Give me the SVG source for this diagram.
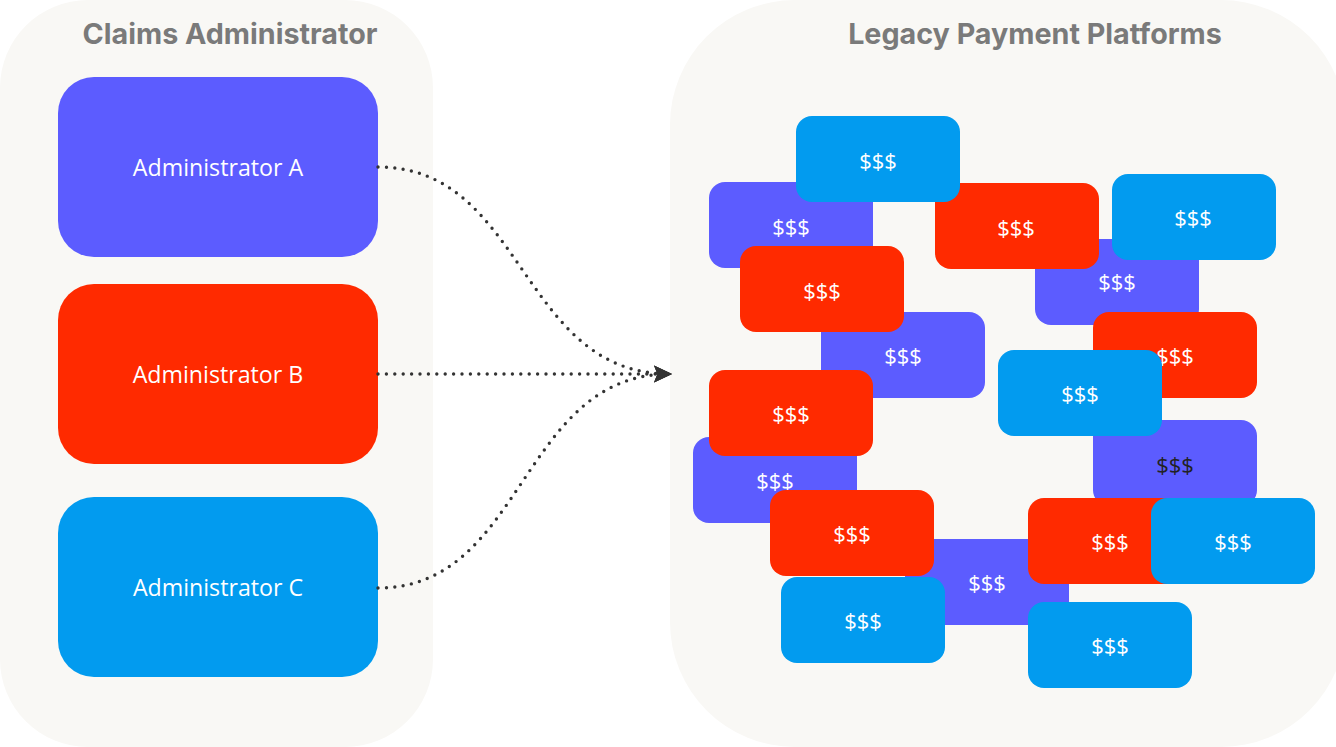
<svg xmlns="http://www.w3.org/2000/svg" width="1336" height="747" viewBox="0 0 1336 747">
<style>
.panel{fill:#f9f8f5}
.title{font-family:Inter,"Liberation Sans",sans-serif;font-weight:700;font-size:28.7px;fill:#7a7a7a;text-anchor:middle}
.admin{font-family:"Open Sans","Noto Sans",sans-serif;font-size:23.2px;fill:#ffffff;text-anchor:middle;dominant-baseline:central}
.m{font-family:"Open Sans","Noto Sans",sans-serif;font-size:22px;fill:#ffffff;text-anchor:middle;dominant-baseline:central}
.p{fill:#5c5cff}.r{fill:#ff2a00}.b{fill:#029bef}
.conn{fill:none;stroke:#333333;stroke-width:3.4;stroke-linecap:round;stroke-dasharray:0 8.4}
</style>
<defs>
<marker id="arrow" markerWidth="20" markerHeight="20" refX="16" refY="10" orient="auto" markerUnits="userSpaceOnUse">
<path d="M0,1.5 L18,10 L0,18.5 L3.5,10 Z" fill="#333333"/>
</marker>
</defs>
<g id="panel-left"><rect class="panel" x="0" y="0" width="433" height="747" rx="88"/><text class="title" x="230" y="44">Claims Administrator</text></g>
<g id="panel-right"><rect class="panel" x="670" y="0" width="676" height="747" rx="125"/><text class="title" x="1035" y="44">Legacy Payment Platforms</text></g>
<g id="admin-a"><rect class="p" x="58" y="77" width="320" height="180" rx="36"/><text class="admin" x="218" y="167">Administrator A</text></g>
<g id="admin-b"><rect class="r" x="58" y="284" width="320" height="180" rx="36"/><text class="admin" x="218" y="374">Administrator B</text></g>
<g id="admin-c"><rect class="b" x="58" y="497" width="320" height="180" rx="36"/><text class="admin" x="218" y="587">Administrator C</text></g>
<g id="connectors">
<path class="conn" d="M378,167 C525,167 520,374 670,374" marker-end="url(#arrow)"/>
<path class="conn" d="M378,374 L670,374" marker-end="url(#arrow)"/>
<path class="conn" d="M378,588 C525,588 520,374 670,374" marker-end="url(#arrow)"/>
</g>
<g id="p1"><rect class="p" x="709" y="182" width="164" height="86" rx="16"/><text class="m" x="791" y="226">$$$</text></g>
<g id="p2"><rect class="p" x="821" y="312" width="164" height="86" rx="16"/><text class="m" x="903" y="355">$$$</text></g>
<g id="p3"><rect class="p" x="693" y="437" width="164" height="86" rx="16"/><text class="m" x="775" y="480">$$$</text></g>
<g id="p4"><rect class="p" x="905" y="539" width="164" height="86" rx="16"/><text class="m" x="987" y="582">$$$</text></g>
<g id="p5"><rect class="p" x="1035" y="239" width="164" height="86" rx="16"/><text class="m" x="1117" y="281">$$$</text></g>
<g id="p6"><rect class="p" x="1093" y="420" width="164" height="86" rx="16"/><text class="m" x="1175" y="464" style="fill:#222222">$$$</text></g>
<g id="r1"><rect class="r" x="740" y="246" width="164" height="86" rx="16"/><text class="m" x="822" y="290">$$$</text></g>
<g id="r2"><rect class="r" x="709" y="370" width="164" height="86" rx="16"/><text class="m" x="791" y="413">$$$</text></g>
<g id="r3"><rect class="r" x="770" y="490" width="164" height="86" rx="16"/><text class="m" x="852" y="533">$$$</text></g>
<g id="r4"><rect class="r" x="935" y="183" width="164" height="86" rx="16"/><text class="m" x="1016" y="227">$$$</text></g>
<g id="r5"><rect class="r" x="1093" y="312" width="164" height="86" rx="16"/><text class="m" x="1175" y="355">$$$</text></g>
<g id="r6"><rect class="r" x="1028" y="498" width="164" height="86" rx="16"/><text class="m" x="1110" y="541">$$$</text></g>
<g id="b1"><rect class="b" x="796" y="116" width="164" height="86" rx="16"/><text class="m" x="878" y="160">$$$</text></g>
<g id="b2"><rect class="b" x="1112" y="174" width="164" height="86" rx="16"/><text class="m" x="1193" y="217">$$$</text></g>
<g id="b3"><rect class="b" x="998" y="350" width="164" height="86" rx="16"/><text class="m" x="1080" y="393">$$$</text></g>
<g id="b4"><rect class="b" x="781" y="577" width="164" height="86" rx="16"/><text class="m" x="863" y="620">$$$</text></g>
<g id="b5"><rect class="b" x="1151" y="498" width="164" height="86" rx="16"/><text class="m" x="1233" y="541">$$$</text></g>
<g id="b6"><rect class="b" x="1028" y="602" width="164" height="86" rx="16"/><text class="m" x="1110" y="645">$$$</text></g>
</svg>
